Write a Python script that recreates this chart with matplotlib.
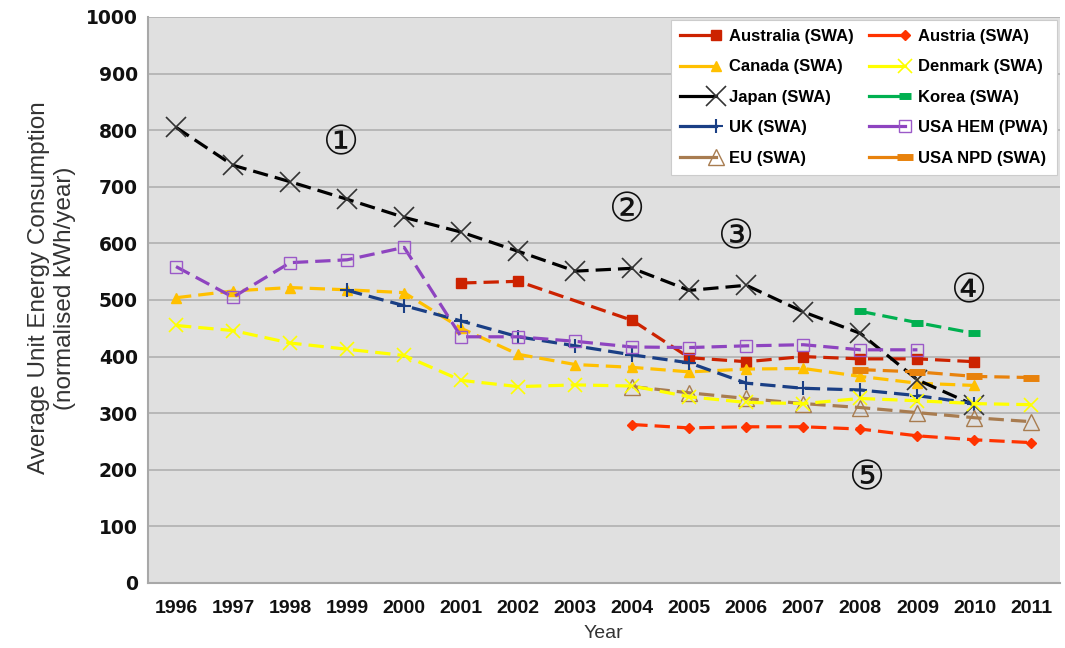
import matplotlib
matplotlib.use("Agg")
import matplotlib.pyplot as plt
from matplotlib.legend_handler import HandlerLine2D

# ---------------- data ----------------
years_all = list(range(1996, 2012))

australia_years = [2001, 2002, 2004, 2005, 2006, 2007, 2008, 2009, 2010]
australia_vals = [530, 533, 464, 398, 391, 400, 396, 396, 391]

austria_years = [2004, 2005, 2006, 2007, 2008, 2009, 2010, 2011]
austria_vals = [280, 274, 276, 276, 272, 260, 253, 248]

canada_years = list(range(1996, 2011))
canada_vals = [504, 516, 522, 518, 513, 450, 404, 386, 381, 373, 378, 379, 365, 353, 349]

denmark_years = list(range(1996, 2012))
denmark_vals = [455, 446, 424, 413, 402, 358, 347, 350, 348, 329, 319, 317, 326, 322, 317, 315]

japan_years = list(range(1996, 2011))
japan_vals = [805, 738, 709, 678, 646, 620, 586, 551, 556, 517, 526, 479, 441, 359, 314]

korea_years = [2008, 2009, 2010]
korea_vals = [480, 460, 441]

uk_years = list(range(1999, 2011))
uk_vals = [517, 490, 463, 435, 419, 403, 389, 353, 344, 341, 331, 317]

usa_hem_years = list(range(1996, 2010))
usa_hem_vals = [559, 505, 566, 571, 593, 435, 435, 427, 417, 416, 419, 421, 412, 412]

eu_years = [2004, 2005, 2006, 2007, 2008, 2009, 2010, 2011]
eu_vals = [347, 336, 326, 317, 310, 301, 292, 285]

usa_npd_years = [2008, 2009, 2010, 2011]
usa_npd_vals = [377, 373, 365, 363]

annot_labels = ["①", "②", "③", "④", "⑤"]
annot_pos = [(1998.9, 777), (2003.91, 659), (2005.82, 611), (2009.9, 516), (2008.12, 185)]

# ---------------- figure ----------------
fig = plt.figure(figsize=(10.65, 6.48), dpi=100, facecolor="white")
ax = fig.add_axes([147.5 / 1065, 1 - 583 / 648, (1060 - 147.5) / 1065, (583 - 17) / 648])
ax.set_facecolor("#e0e0e0")

ax.set_xlim(1995.5, 2011.5)
ax.set_ylim(0, 1000)
ax.set_yticks(range(0, 1001, 100))
ax.set_xticks(years_all)
ax.yaxis.grid(True, color="#b0b0b0", linewidth=1.2)
ax.set_axisbelow(True)
for s in ["top", "right"]:
    ax.spines[s].set_visible(False)
for s in ["left", "bottom"]:
    ax.spines[s].set_color("#a8a8a8")
    ax.spines[s].set_linewidth(1.5)
ax.tick_params(axis="both", length=0)
ax.tick_params(axis="y", pad=7)
ax.tick_params(axis="x", pad=12)
for lab in ax.get_xticklabels():
    lab.set_fontfamily("Liberation Sans")
    lab.set_fontweight("bold")
    lab.set_fontsize(14)
    lab.set_color("#111111")
for lab in ax.get_yticklabels():
    lab.set_fontfamily("DejaVu Sans")
    lab.set_fontweight("bold")
    lab.set_fontsize(13.5)
    lab.set_color("#111111")

ax.set_ylabel("Average Unit Energy Consumption\n(normalised kWh/year)",
              fontfamily="Liberation Sans", fontsize=17.5, color="#333333",
              linespacing=1.2)
ax.yaxis.label.set_va("center")
ax.yaxis.set_label_coords((52 - 147.5) / 912.5, (583 - 288) / 566)
ax.set_xlabel("Year", fontfamily="Liberation Sans", fontsize=14, color="#333333", labelpad=6)

dash = (4.8, 2.2)
lw = 2.3

series = [
    ("Australia (SWA)", australia_years, australia_vals,
     dict(color="#cc2200", marker="s", ms=7, mec="#cc2200")),
    ("Canada (SWA)", canada_years, canada_vals,
     dict(color="#ffc000", marker="^", ms=7, mec="#ffc000")),
    ("Japan (SWA)", japan_years, japan_vals,
     dict(color="#000000", marker="x", ms=14, mec="#333333", mew=1.2)),
    ("UK (SWA)", uk_years, uk_vals,
     dict(color="#1a3f85", marker="+", ms=10, mec="#1a3f85", mew=1.5)),
    ("EU (SWA)", eu_years, eu_vals,
     dict(color="#a87c50", marker="^", ms=11, mfc="none", mec="#a87c50", mew=1.0)),
    ("Austria (SWA)", austria_years, austria_vals,
     dict(color="#ff3300", marker="D", ms=5, mec="#ff3300")),
    ("Denmark (SWA)", denmark_years, denmark_vals,
     dict(color="#ffff00", marker="x", ms=10, mec="#ffff00", mew=1.2)),
    ("Korea (SWA)", korea_years, korea_vals,
     dict(color="#00b050", marker="_", ms=9, mec="#00b050", mew=5)),
    ("USA HEM (PWA)", usa_hem_years, usa_hem_vals,
     dict(color="#8e44c0", marker="s", ms=9, mfc="none", mec="#9b59c8", mew=1.0)),
    ("USA NPD (SWA)", usa_npd_years, usa_npd_vals,
     dict(color="#e8820c", marker="_", ms=11, mec="#e8820c", mew=5)),
]

handles = []
for name, xs, ys, st in series:
    (ln,) = ax.plot(xs, ys, linestyle=(0, dash), linewidth=lw, label=name, **st)
    handles.append(ln)

for txt, (x, y) in zip(annot_labels, annot_pos):
    ax.text(x, y, txt, fontsize=29, ha="center", va="center",
            family=["DejaVu Sans", "Noto Sans CJK JP"], color="#111111")


class RightMarkerHandler(HandlerLine2D):
    def create_artists(self, legend, orig_handle, xdescent, ydescent,
                       width, height, fontsize, trans):
        arts = super().create_artists(legend, orig_handle, xdescent, ydescent,
                                      width, height, fontsize, trans)
        for a in arts:
            a.set_linestyle("-")
            a.set_markevery([2])
        return arts


leg = ax.legend(handles=handles, ncol=2, loc="upper right",
                bbox_to_anchor=(1057 / 1065, 1 - 20 / 648), bbox_transform=fig.transFigure,
                borderaxespad=0,
                numpoints=1, handler_map={h: RightMarkerHandler() for h in handles},
                prop={"family": "Liberation Sans", "weight": "bold", "size": 12},
                frameon=True, fancybox=False, edgecolor="#cccccc", facecolor="white",
                framealpha=1, handlelength=2.2, handletextpad=0.75, columnspacing=0.9,
                labelspacing=0.92, borderpad=0.55)
leg.get_frame().set_linewidth(0.8)

fig.savefig("out.png", dpi=100, facecolor="white")
